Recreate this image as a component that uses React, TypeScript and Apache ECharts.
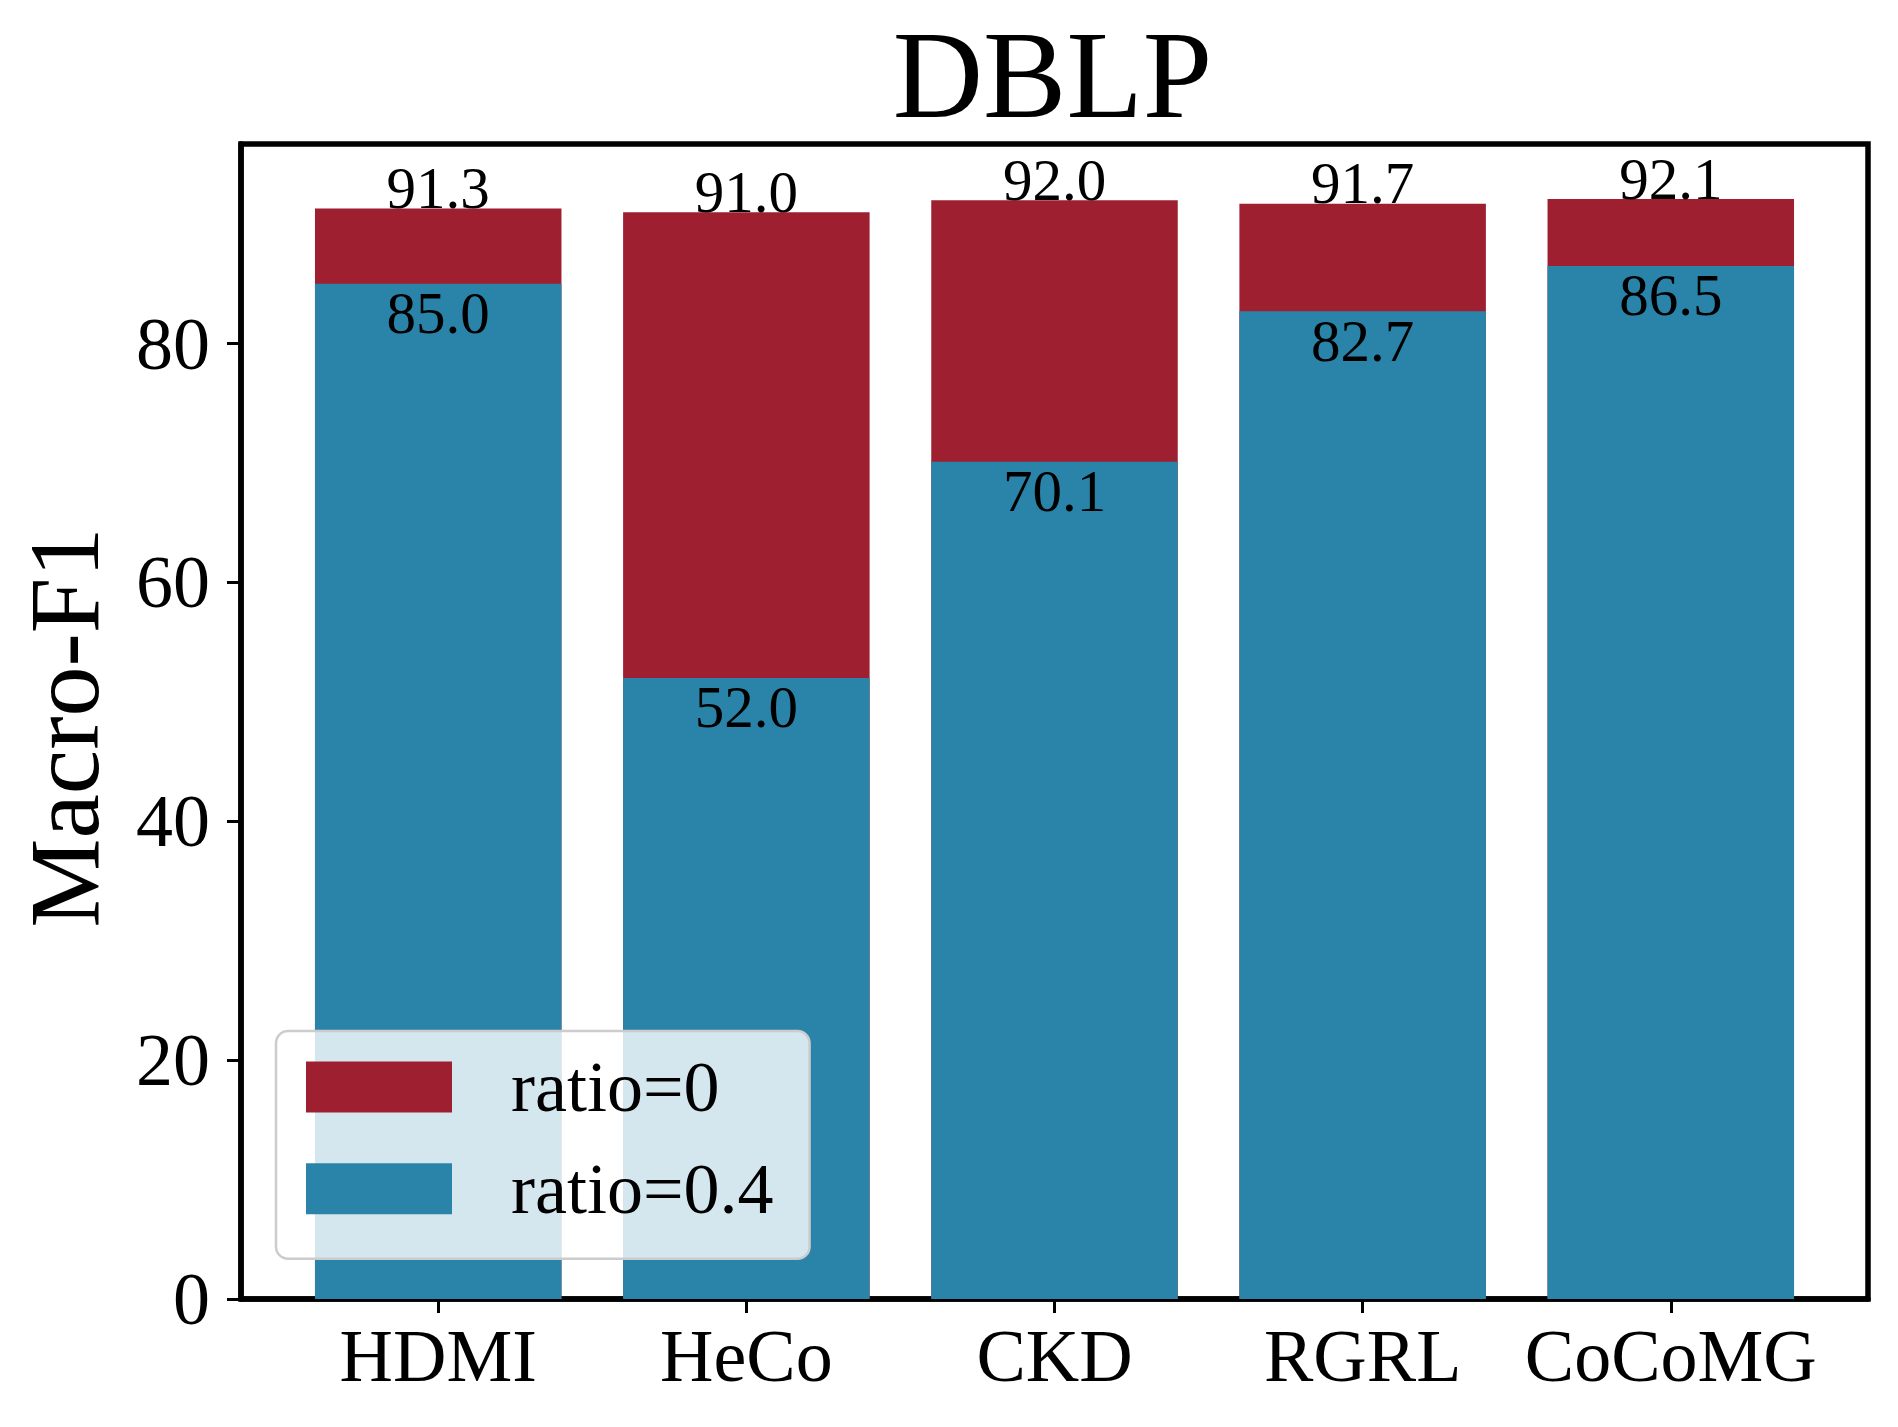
import React, { useEffect, useRef } from "react";
import * as echarts from "echarts";

const categories = ["HDMI", "HeCo", "CKD", "RGRL", "CoCoMG"];
const ratio0 = [91.3, 91.0, 92.0, 91.7, 92.1];
const ratio04 = [85.0, 52.0, 70.1, 82.7, 86.5];
const yTicks = [0, 20, 40, 60, 80];
const xTicks = [0, 1, 2, 3, 4];
const seriesNames = ["ratio=0", "ratio=0.4"];
const titleText = "DBLP";
const yName = "Macro-F1";

const FONT = "'Liberation Serif', 'Times New Roman', serif";
const RED = "#9D1F30";
const BLUE = "#2A84AA";

export default function App() {
  const ref = useRef<HTMLDivElement>(null);
  useEffect(() => {
    document.body.style.margin = "0";
    if (!ref.current) return;
    const chart = echarts.init(ref.current, null, { renderer: "svg" });
    const yMax = Math.max(...ratio0) * 1.05;
    chart.setOption({
      animation: false,
      backgroundColor: "#ffffff",
      grid: {
        left: 241,
        right: 30,
        top: 144,
        bottom: 128,
        show: true,
        borderColor: "#000",
        borderWidth: 5.5,
        backgroundColor: "transparent",
      },
      graphic: [
        {
          type: "text",
          x: 1052.5,
          y: 74.5,
          style: {
            text: titleText,
            fontFamily: FONT,
            fontSize: 125,
            lineHeight: 125,
            fill: "#000",
            align: "center",
            verticalAlign: "middle",
          },
        },
        {
          type: "text",
          x: 64.5,
          y: 727.5,
          rotation: Math.PI / 2,
          style: {
            text: yName,
            fontFamily: FONT,
            fontSize: 100,
            lineHeight: 100,
            fill: "#000",
            align: "center",
            verticalAlign: "middle",
          },
        },
      ],
      legend: {
        data: seriesNames,
        orient: "vertical",
        left: 276,
        top: 1031,
        itemWidth: 146,
        itemHeight: 51,
        itemGap: 29.7,
        icon: "rect",
        padding: [20, 36, 34, 30],
        backgroundColor: "rgba(255,255,255,0.8)",
        borderColor: "#cccccc",
        borderWidth: 2.5,
        borderRadius: 12,
        textStyle: {
          fontFamily: FONT,
          fontSize: 72,
          lineHeight: 51,
          color: "#000",
          padding: [0, 0, 0, 54],
        },
        z: 10,
      },
      xAxis: {
        type: "value",
        min: -0.64,
        max: 4.64,
        splitLine: { show: false },
        axisLine: { show: true, lineStyle: { color: "#000", width: 5.5 } },
        axisTick: {
          show: true,
          customValues: xTicks,
          length: 14,
          inside: false,
          lineStyle: { color: "#000", width: 3 },
        },
        axisLabel: {
          customValues: xTicks,
          formatter: (v: number) => categories[Math.round(v)] ?? "",
          fontFamily: FONT,
          fontSize: 74,
          lineHeight: 74,
          color: "#000",
          margin: 20,
        },
      },
      yAxis: {
        type: "value",
        min: 0,
        max: yMax,
        splitLine: { show: false },
        axisLine: { show: true, onZero: false, lineStyle: { color: "#000", width: 5.5 } },
        axisTick: {
          show: true,
          customValues: yTicks,
          length: 14,
          inside: false,
          lineStyle: { color: "#000", width: 3 },
        },
        axisLabel: {
          customValues: yTicks,
          fontFamily: FONT,
          fontSize: 74,
          lineHeight: 74,
          color: "#000",
          margin: 31,
        },
      },
      series: [
        {
          name: seriesNames[0],
          type: "bar",
          data: ratio0.map((v, i) => [i, v]),
          barWidth: 246.5,
          barGap: "-100%",
          itemStyle: { color: RED },
          label: {
            show: true,
            position: "top",
            distance: 0,
            offset: [0, 9],
            formatter: (p: any) => Number(p.value[1]).toFixed(1),
            fontFamily: FONT,
            fontSize: 59,
            lineHeight: 59,
            color: "#000",
          },
          z: 2,
        },
        {
          name: seriesNames[1],
          type: "bar",
          data: ratio04.map((v, i) => [i, v]),
          barWidth: 246.5,
          barGap: "-100%",
          itemStyle: { color: BLUE },
          label: {
            show: true,
            position: "insideTop",
            distance: 0,
            formatter: (p: any) => Number(p.value[1]).toFixed(1),
            fontFamily: FONT,
            fontSize: 59,
            lineHeight: 59,
            color: "#000",
          },
          z: 3,
        },
      ],
    });
    return () => chart.dispose();
  }, []);
  return <div ref={ref} style={{ width: 1898, height: 1427 }} />;
}
